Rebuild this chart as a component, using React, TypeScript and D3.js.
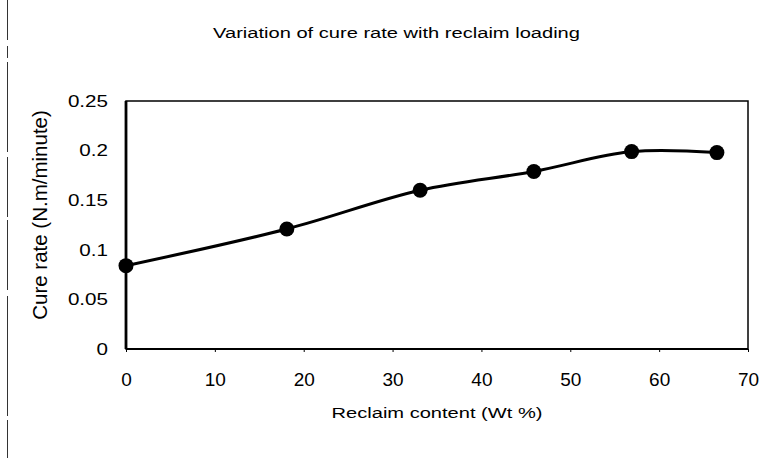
import React, { useRef, useEffect } from 'react';
import * as d3 from 'd3';

const reclaim = [0, 18.1, 33.1, 45.9, 56.9, 66.5];
const cureRate = [0.084, 0.121, 0.16, 0.179, 0.199, 0.198];
const xTicks = [0, 10, 20, 30, 40, 50, 60, 70];
const yTicks = [0, 0.05, 0.1, 0.15, 0.2, 0.25];

const title = 'Variation of cure rate with reclaim loading';
const xTitle = 'Reclaim content (Wt %)';
const yTitle = 'Cure rate (N.m/minute)';

const width = 775;
const height = 458;
const margins = { l: 126, t: 101, r: 27, b: 109 };
const font = '"Liberation Sans", Arial, sans-serif';

const CureChart = () => {
  const container = useRef(null);

  useEffect(() => {
    const plotwidth = width - margins.l - margins.r;
    const plotheight = height - margins.t - margins.b;

    const svg = d3
      .select(container.current)
      .selectAll('svg')
      .data([0])
      .join('svg')
      .attr('width', width)
      .attr('height', height)
      .style('position', 'absolute')
      .style('left', 0)
      .style('top', 0)
      .style('background', '#fff');

    svg.selectAll('*').remove();

    // scanned page edge on the left
    svg
      .append('line')
      .attr('x1', 7.5)
      .attr('x2', 7.5)
      .attr('y1', 0)
      .attr('y2', height)
      .attr('stroke', '#333')
      .attr('stroke-width', 1)
      .attr('stroke-dasharray', '40 6 12 4 90 5 60 3 70 6 120 4');

    const xScale = d3.scaleLinear().domain([0, 70]).range([0, plotwidth]);
    const yScale = d3.scaleLinear().domain([0, 0.25]).range([plotheight, 0]);

    const plotg = svg
      .append('g')
      .attr('transform', `translate(${margins.l},${margins.t})`);

    plotg
      .append('rect')
      .attr('width', plotwidth)
      .attr('height', plotheight)
      .attr('fill', 'none')
      .attr('stroke', '#000')
      .attr('stroke-width', 1.5);

    plotg
      .append('line')
      .attr('x1', 0)
      .attr('x2', 0)
      .attr('y1', 0)
      .attr('y2', plotheight)
      .attr('stroke', '#000')
      .attr('stroke-width', 2.8);

    plotg
      .append('line')
      .attr('x1', 0)
      .attr('x2', plotwidth)
      .attr('y1', plotheight)
      .attr('y2', plotheight)
      .attr('stroke', '#000')
      .attr('stroke-width', 2);

    const xAxis = d3
      .axisBottom(xScale)
      .tickValues(xTicks)
      .tickSize(3)
      .tickPadding(21)
      .tickFormat(d3.format('d'));
    const yAxis = d3
      .axisLeft(yScale)
      .tickValues(yTicks)
      .tickSize(0)
      .tickPadding(14.4)
      .tickFormat(d => String(+d));

    const xaxisg = plotg
      .append('g')
      .attr('transform', `translate(0,${plotheight})`)
      .call(xAxis);
    const yaxisg = plotg.append('g').call(yAxis);

    [xaxisg, yaxisg].forEach(g => {
      g.select('.domain').remove();
      g.selectAll('line').attr('stroke', '#000').attr('stroke-width', 1);
      g.selectAll('text').attr('fill', '#000').style('font-family', font);
    });
    xaxisg.selectAll('text').style('font-size', '19px');
    yaxisg
      .selectAll('text')
      .style('font-size', '16.5px')
      .attr('transform', 'scale(1.25,1)');

    const points = reclaim.map((r, i) => [xScale(r), yScale(cureRate[i])]);

    const line = d3.line().curve(d3.curveCatmullRom.alpha(0.5));

    plotg
      .append('path')
      .attr('d', line(points))
      .attr('fill', 'none')
      .attr('stroke', '#000')
      .attr('stroke-width', 3);

    plotg
      .selectAll('.dot')
      .data(points)
      .join('circle')
      .attr('class', 'dot')
      .attr('cx', d => d[0])
      .attr('cy', d => d[1])
      .attr('r', 7.5)
      .attr('fill', '#000');

    /* LABELS AND TITLES */
    svg
      .append('text')
      .attr('transform', 'translate(396.5,37.5)scale(1.34,1)')
      .attr('text-anchor', 'middle')
      .style('font-family', font)
      .style('font-size', '15px')
      .text(title);

    svg
      .append('text')
      .attr('transform', 'translate(437,417.5)scale(1.34,1)')
      .attr('text-anchor', 'middle')
      .style('font-family', font)
      .style('font-size', '15px')
      .text(xTitle);

    svg
      .append('text')
      .attr('transform', `translate(47,215)rotate(270)`)
      .attr('text-anchor', 'middle')
      .style('font-family', font)
      .style('font-size', '20.5px')
      .text(yTitle);
  }, []);

  return <div className="chart-container" ref={container}></div>;
};

export default function App() {
  return <CureChart />;
}
